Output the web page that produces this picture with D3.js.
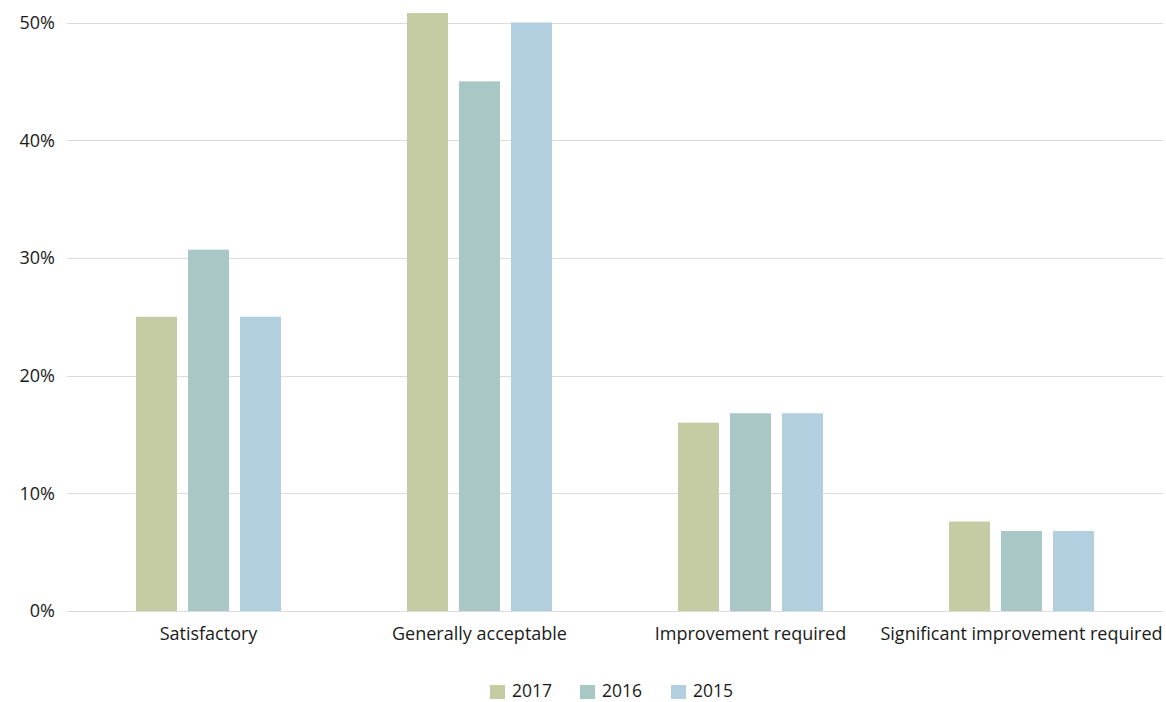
<!DOCTYPE html>
<html><head><meta charset="utf-8">
<script src="https://cdn.jsdelivr.net/npm/d3@7"></script>
<style>
html,body{margin:0;padding:0;background:#fff;}
text{font-family:"Open Sans","Noto Sans",sans-serif;fill:#1a1a1a;}
</style></head>
<body><svg id="c" width="1166" height="702"></svg>
<script>
const categories = ["Satisfactory","Generally acceptable","Improvement required","Significant improvement required"];
const seriesNames = ["2017","2016","2015"];
const values2017 = [25.0, 50.8, 16.0, 7.6];
const values2016 = [30.7, 45.0, 16.8, 6.8];
const values2015 = [25.0, 50.0, 16.8, 6.8];
const yTicks = [0,10,20,30,40,50];
const colors = ["#c5cba2","#a8c7c5","#b2cfe0"];

const series = [values2017, values2016, values2015];
const svg = d3.select("#c");
const x0 = d3.scaleBand().domain(categories).range([73,1157]).paddingInner(0).paddingOuter(0);
const x1 = d3.scaleBand().domain(seriesNames).range([63, 208]).paddingInner(0.212).paddingOuter(0);
const y = d3.scaleLinear().domain([0,50]).range([611,22.5]);

// grid
svg.append("g").selectAll("line").data(yTicks).join("line")
  .attr("x1",67).attr("x2",1163)
  .attr("y1",d=>Math.round(y(d))+0.5).attr("y2",d=>Math.round(y(d))+0.5)
  .attr("stroke","#dcdcdc").attr("stroke-width",1.2);

// y labels
svg.append("g").selectAll("text").data(yTicks).join("text")
  .attr("x",55).attr("y",d=>y(d)).attr("dy","0.35em")
  .attr("text-anchor","end").attr("font-size",18)
  .text(d=>d+"%");

// bars
categories.forEach((c,ci)=>{
  seriesNames.forEach((s,si)=>{
    const v = series[si][ci];
    svg.append("rect")
      .attr("x", x0(c)+x1(s)).attr("width", x1.bandwidth())
      .attr("y", y(v)).attr("height", y(0)-y(v))
      .attr("fill", colors[si]);
  });
});

// x labels
svg.append("g").selectAll("text").data(categories).join("text")
  .attr("x",d=>x0(d)+x0.bandwidth()/2).attr("y",640)
  .attr("text-anchor","middle").attr("font-size",18)
  .text(d=>d);

// legend
const legX = [490,580,671];
const lg = svg.append("g");
seriesNames.forEach((s,i)=>{
  lg.append("rect").attr("x",legX[i]).attr("y",685).attr("width",15).attr("height",14).attr("fill",colors[i]);
  lg.append("text").attr("x",legX[i]+22).attr("y",697).attr("font-size",17.5).text(s);
});
</script></body></html>
